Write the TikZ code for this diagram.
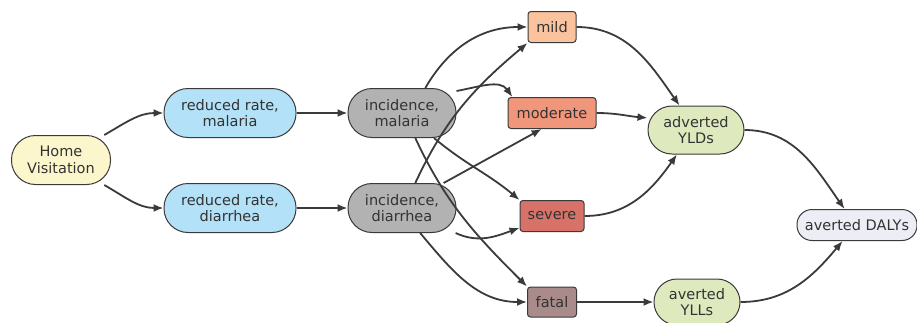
\documentclass[tikz,border=0pt]{standalone}
\usepackage{fontspec}
\setmainfont{DejaVu Sans}
\usetikzlibrary{arrows.meta, positioning}
\definecolor{txt}{HTML}{333333}
\definecolor{edge}{HTML}{3A3A3A}
\definecolor{cHome}{HTML}{FBF6CC}
\definecolor{cRate}{HTML}{B3E1F7}
\definecolor{cInc}{HTML}{B2B2B2}
\definecolor{cMild}{HTML}{FBC29E}
\definecolor{cMod}{HTML}{F0967B}
\definecolor{cSev}{HTML}{D67268}
\definecolor{cFatal}{HTML}{A98B8B}
\definecolor{cYl}{HTML}{DFE9BE}
\definecolor{cDaly}{HTML}{EDEDF5}

\begin{document}
\begin{tikzpicture}[x=1pt, y=1pt, on grid, >={Latex[length=10pt,width=8pt]},
    every node/.style={font=\fontsize{14.5}{16.5}\selectfont, text=txt, align=center,
      draw=edge, line width=1pt, inner sep=0pt},
    pill/.style={rounded corners=24pt, minimum height=49pt},
    box/.style={rounded corners=3pt, minimum height=31pt},
    arr/.style={->, line width=1.8pt, draw=edge}]
        \useasboundingbox (0,0) rectangle (917,-322);
        \node[pill, fill=cHome, minimum width=99pt] (hv) at (61,-160) {Home\\Visitation};
        \node[pill, fill=cRate, minimum width=132pt, above right=47pt and 169pt of hv] (rrm) {reduced rate,\\malaria};
        \node[pill, fill=cRate, minimum width=132pt, below right=48pt and 169pt of hv] (rrd) {reduced rate,\\diarrhea};
        \node[pill, fill=cInc, minimum width=108pt, right=172pt of rrm] (incm) {incidence,\\malaria};
        \node[pill, fill=cInc, minimum width=108pt, right=172pt of rrd] (incd) {incidence,\\diarrhea};
        \node[box, fill=cMod, minimum width=88pt, right=150pt of incm] (mod) {moderate};
        \node[box, fill=cMild, minimum width=48pt, above=86pt of mod] (mild) {mild};
        \node[box, fill=cSev, minimum width=64pt, below=103pt of mod] (sev) {severe};
        \node[box, fill=cFatal, minimum width=49pt, minimum height=30pt, below=86pt of sev] (fatal) {fatal};
        \node[pill, fill=cYl, minimum width=96pt, minimum height=48pt, below right=17pt and 144pt of mod] (ylds) {adverted\\YLDs};
        \node[pill, fill=cYl, rounded corners=23pt, minimum width=86pt, minimum height=46pt, right=145pt of fatal] (ylls) {averted\\YLLs};
        \node[box, fill=cDaly, rounded corners=15pt, minimum width=120pt, below right=95pt and 161pt of ylds] (dalys) {averted DALYs};
        % first stage
        \draw[arr] (hv.30) to[out=30, in=180] (rrm.west);
        \draw[arr] (hv.-30) to[out=-30, in=180] (rrd.west);
        \draw[arr] (rrm) -- (incm);
        \draw[arr] (rrd) -- (incd);
        % incidence to severity
        \draw[arr] (incm.47) to[out=60, in=180] (mild.west);
        \draw[arr] (incd.62) to[out=65, in=220] (mild.south west);
        \draw[arr] (incm.22) to[out=10, in=125] (mod.158);
        \draw[arr] (incd.31) -- (mod.-123);
        \draw[arr] (incm.-38) to[out=-40, in=140] (sev.north west);
        \draw[arr] (incd.-25) to[out=-25, in=200] (sev.-160);
        \draw[arr] (incm.-62) to[out=-65, in=135] (fatal.north west);
        \draw[arr] (incd.-54) to[out=-50, in=180] (fatal.west);
        % severity to outcomes
        \draw[arr] (mild.east) to[out=0, in=125] (ylds.124);
        \draw[arr] (mod.east) to[out=0, in=175] (ylds.166);
        \draw[arr] (sev.east) to[out=0, in=-125] (ylds.-128);
        \draw[arr] (fatal) -- (ylls);
        \draw[arr] (ylds.east) to[out=0, in=125] (dalys.128);
        \draw[arr] (ylls.east) to[out=0, in=-130] (dalys.-132);
      \end{tikzpicture}
\end{document}
